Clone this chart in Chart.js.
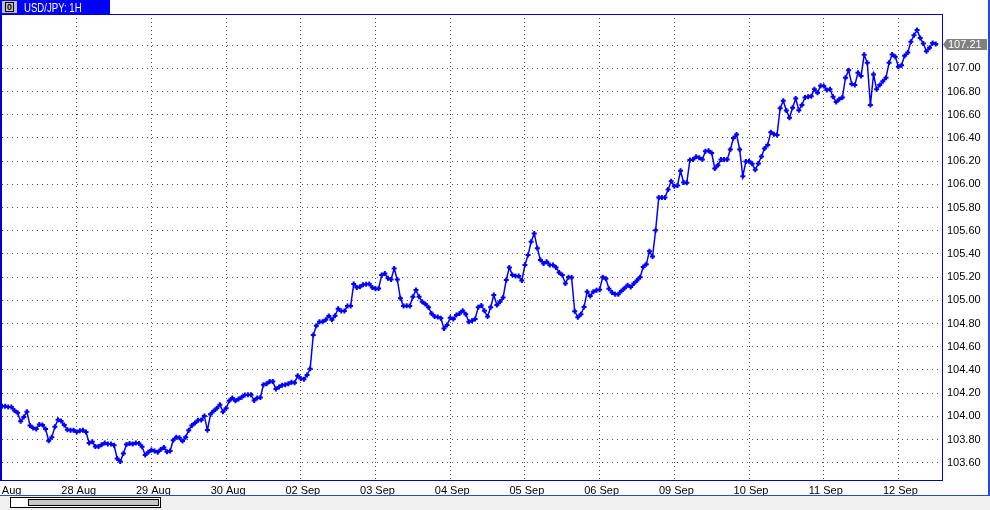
<!DOCTYPE html>
<html>
<head>
<meta charset="utf-8">
<script src="https://cdn.jsdelivr.net/npm/chart.js@4/dist/chart.umd.min.js"></script>
<style>
    html, body { margin: 0; padding: 0; background: #ffffff; }
    canvas { display: block; }
</style>
</head>
<body>
<canvas id="myChart" width="990" height="510"></canvas>
<script>
// USD/JPY hourly closes, one value per bar (27 Aug .. 12 Sep)
const prices = [
    104.086, 104.086, 104.080, 104.080, 104.050, 104.030, 103.957, 103.994, 104.040, 103.920,
    103.900, 103.890, 103.930, 103.925, 103.890, 103.790, 103.820, 103.910, 103.970, 103.960,
    103.925, 103.885, 103.880, 103.880, 103.865, 103.875, 103.880, 103.865, 103.770, 103.780,
    103.740, 103.740, 103.755, 103.770, 103.760, 103.760, 103.750, 103.637, 103.610, 103.680,
    103.757, 103.766, 103.760, 103.770, 103.766, 103.737, 103.666, 103.690, 103.710, 103.700,
    103.690, 103.714, 103.730, 103.694, 103.700, 103.794, 103.820, 103.814, 103.786, 103.820,
    103.880, 103.920, 103.943, 103.966, 103.968, 104.003, 103.881, 104.017, 104.046, 104.070,
    104.100, 104.040, 104.070, 104.133, 104.157, 104.133, 104.150, 104.165, 104.183, 104.186,
    104.186, 104.136, 104.157, 104.162, 104.272, 104.281, 104.300, 104.300, 104.235, 104.252,
    104.267, 104.272, 104.281, 104.293, 104.290, 104.350, 104.325, 104.320, 104.355, 104.410,
    104.700, 104.780, 104.816, 104.816, 104.833, 104.865, 104.833, 104.868, 104.928, 104.908,
    104.908, 104.950, 104.950, 105.140, 105.110, 105.118, 105.135, 105.138, 105.140, 105.110,
    105.100, 105.103, 105.218, 105.232, 105.190, 105.180, 105.275, 105.180, 105.017, 104.950,
    104.953, 104.950, 105.030, 105.088, 105.030, 104.988, 104.968, 104.940, 104.887, 104.860,
    104.856, 104.845, 104.758, 104.787, 104.850, 104.840, 104.873, 104.887, 104.910, 104.880,
    104.815, 104.824, 104.840, 104.940, 104.956, 104.910, 104.860, 104.940, 105.045, 104.960,
    104.988, 105.025, 105.175, 105.284, 105.218, 105.210, 105.210, 105.170, 105.304, 105.390,
    105.505, 105.577, 105.448, 105.347, 105.318, 105.333, 105.304, 105.304, 105.284, 105.240,
    105.218, 105.146, 105.200, 105.196, 104.905, 104.855, 104.880, 104.942, 105.075, 105.037,
    105.075, 105.087, 105.092, 105.200, 105.185, 105.100, 105.068, 105.053, 105.053, 105.080,
    105.105, 105.130, 105.115, 105.145, 105.170, 105.198, 105.288, 105.310, 105.424, 105.378,
    105.604, 105.886, 105.886, 105.886, 105.955, 106.027, 105.984, 105.990, 106.117, 106.016,
    106.013, 106.209, 106.214, 106.237, 106.229, 106.214, 106.286, 106.290, 106.270, 106.137,
    106.165, 106.214, 106.214, 106.214, 106.300, 106.400, 106.430, 106.300, 106.070, 106.197,
    106.200, 106.177, 106.125, 106.180, 106.240, 106.310, 106.340, 106.450, 106.432, 106.426,
    106.656, 106.720, 106.636, 106.575, 106.660, 106.740, 106.640, 106.685, 106.750, 106.756,
    106.760, 106.820, 106.790, 106.850, 106.848, 106.813, 106.820, 106.756, 106.710, 106.733,
    106.750, 106.920, 106.985, 106.865, 106.856, 106.962, 106.934, 107.117, 107.048, 106.684,
    106.948, 106.820, 106.856, 106.890, 106.920, 107.048, 107.120, 107.100, 107.014, 107.028,
    107.110, 107.137, 107.230, 107.286, 107.330, 107.263, 107.214, 107.148, 107.177, 107.220,
    107.210
];

// one label per trading day, 24 bars each
const dayLabels = ['27 Aug', '28 Aug', '29 Aug', '30 Aug', '02 Sep', '03 Sep', '04 Sep',
                   '05 Sep', '06 Sep', '09 Sep', '10 Sep', '11 Sep', '12 Sep'];
const barsPerDay = 24;

// price grid levels on the right axis
const priceTicks = [103.60, 103.80, 104.00, 104.20, 104.40, 104.60, 104.80, 105.00, 105.20,
                    105.40, 105.60, 105.80, 106.00, 106.20, 106.40, 106.60, 106.80, 107.00, 107.20];

const symbolTitle = 'USD/JPY: 1H';
const lastPrice = prices[prices.length - 1];

document.addEventListener("DOMContentLoaded", function() {
    var ChartCanvas = document.getElementById('myChart');

    const axisFont = { family: 'Liberation Sans', size: 11 };
    const frameBlue = '#0000cc';
    const edgeBlue = '#2050c8';

    // window frame, title tab, scroll bar and last price marker (MetaTrader look)
    const framePlugin = {
        id: 'frame',
        afterDraw(chart) {
            const ctx = chart.ctx;
            const area = chart.chartArea;
            ctx.save();

            // plot border
            ctx.fillStyle = frameBlue;
            ctx.fillRect(0, area.top, area.right + 1, 1);
            ctx.fillRect(0, area.top, 2, area.bottom - area.top);
            ctx.fillRect(area.right, area.top, 1, area.bottom - area.top);
            ctx.fillRect(0, area.bottom - 1, area.right + 1, 1);

            // title tab
            ctx.fillStyle = '#0000ff';
            ctx.fillRect(0, 0, 110, 14);
            ctx.fillStyle = '#c0c0c0';
            ctx.fillRect(2, 1, 15, 12);
            ctx.strokeStyle = '#000000';
            ctx.lineWidth = 1;
            ctx.strokeRect(5.5, 2.5, 8, 9);
            ctx.fillStyle = '#000000';
            ctx.font = 'bold 9px "Liberation Sans"';
            ctx.textAlign = 'center';
            ctx.textBaseline = 'middle';
            ctx.fillText('0', 9.5, 7.5);

            ctx.save();
            ctx.translate(24, 11.5);
            ctx.scale(0.8, 1);
            ctx.fillStyle = '#ffffff';
            ctx.font = '12px "Liberation Sans"';
            ctx.textAlign = 'left';
            ctx.textBaseline = 'alphabetic';
            ctx.fillText(symbolTitle, 0, 0);
            ctx.restore();

            // right window edge + bottom strip with scroll bar
            ctx.fillStyle = edgeBlue;
            ctx.fillRect(988, 0, 2, 495);
            ctx.fillRect(0, 495, 990, 1);
            ctx.fillStyle = '#f0f0f0';
            ctx.fillRect(0, 496, 990, 14);
            ctx.fillStyle = '#ffffff';
            ctx.fillRect(10, 497, 151, 11);
            ctx.strokeStyle = '#000000';
            ctx.strokeRect(10.5, 497.5, 150, 10);
            ctx.fillStyle = '#c8c8c8';
            ctx.fillRect(28, 499, 131, 7);
            ctx.strokeRect(28.5, 499.5, 130, 6);

            // last price box
            const y = Math.round(chart.scales.y.getPixelForValue(lastPrice)) + 0.5;
            ctx.fillStyle = '#808080';
            ctx.beginPath();
            ctx.moveTo(943, y);
            ctx.lineTo(947, y - 5.5);
            ctx.lineTo(987, y - 5.5);
            ctx.lineTo(987, y + 5.5);
            ctx.lineTo(947, y + 5.5);
            ctx.closePath();
            ctx.fill();
            ctx.fillStyle = '#ffffff';
            ctx.font = '11px "Liberation Sans"';
            ctx.textAlign = 'left';
            ctx.textBaseline = 'middle';
            ctx.fillText(lastPrice.toFixed(2), 948, y + 0.5);

            ctx.restore();
        }
    };

    new Chart(ChartCanvas, {
        type: 'line',
        data: {
            datasets: [{
                label: symbolTitle,
                data: prices.map((p, i) => ({ x: i, y: p })),
                borderColor: '#0000ff',
                backgroundColor: '#0000ff',
                borderWidth: 1.5,
                pointStyle: 'cross',
                pointRadius: 2.5,
                pointBorderWidth: 2,
                pointBorderColor: '#0000ff',
                tension: 0,
                fill: false
            }]
        },
        options: {
            responsive: false,
            animation: false,
            devicePixelRatio: 1,
            layout: {
                autoPadding: false,
                padding: { top: 14, left: 2, right: 0, bottom: 0 }
            },
            plugins: {
                legend: { display: false },
                title: { display: false },
                tooltip: { enabled: false }
            },
            scales: {
                x: {
                    type: 'linear',
                    min: 0,
                    max: 302,
                    afterBuildTicks: function(scale) {
                        scale.ticks = dayLabels.map((d, k) => ({ value: k * barsPerDay }));
                    },
                    afterFit: function(scale) {
                        scale.height = 29;
                        scale.paddingLeft = 0;
                        scale.paddingRight = 0;
                    },
                    ticks: {
                        autoSkip: false,
                        maxRotation: 0,
                        minRotation: 0,
                        padding: 3,
                        labelOffset: 2,
                        color: '#000000',
                        font: axisFont,
                        callback: function(value, index) {
                            return dayLabels[index];
                        }
                    },
                    grid: {
                        color: c => (c.tick && c.tick.value === 0) ? 'rgba(0,0,0,0)' : '#505050',
                        lineWidth: 1,
                        drawTicks: false,
                        borderDash: [1, 3]
                    },
                    border: { display: false, dash: [1, 3] }
                },
                y: {
                    type: 'linear',
                    position: 'right',
                    min: 103.442,
                    max: 107.469,
                    afterBuildTicks: function(scale) {
                        scale.ticks = priceTicks.map(v => ({ value: v }));
                    },
                    afterFit: function(scale) {
                        scale.width = 48;
                        scale.paddingTop = 0;
                        scale.paddingBottom = 0;
                    },
                    ticks: {
                        padding: 5,
                        color: '#000000',
                        font: axisFont,
                        callback: function(value) {
                            // the last price box sits on top of the nearest level
                            if (Math.abs(value - lastPrice) < 0.1) return '';
                            return value.toFixed(2);
                        }
                    },
                    grid: {
                        color: '#505050',
                        lineWidth: 1,
                        drawTicks: false,
                        borderDash: [1, 4]
                    },
                    border: { display: false, dash: [1, 4] }
                }
            }
        },
        plugins: [framePlugin]
    });
});
</script>
</body>
</html>
